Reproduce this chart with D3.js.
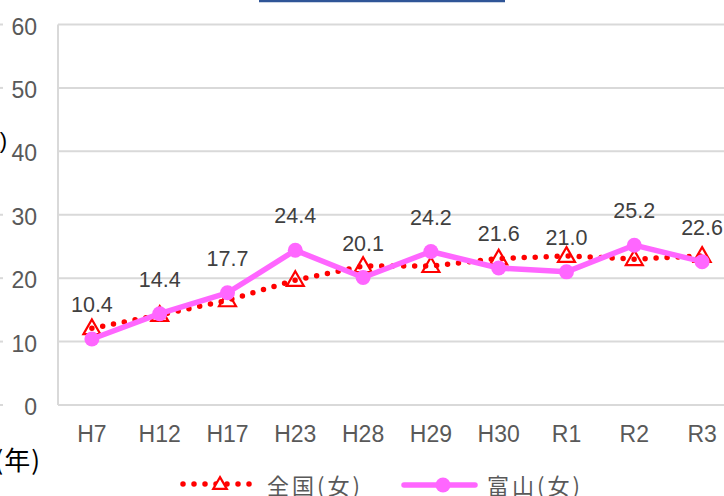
<!DOCTYPE html>
<html>
<head>
<meta charset="utf-8">
<script src="https://cdn.jsdelivr.net/npm/d3@7"></script>
<style>
body { margin: 0; background: #fff; overflow: hidden; }
svg { display: block; }
text { font-family: "Liberation Sans", "Noto Sans CJK JP", sans-serif; }
text.jp { font-family: "Noto Sans CJK JP", sans-serif; }
</style>
</head>
<body>
<svg id="chart" width="724" height="496"></svg>
<script>
"use strict"

var categories = ["H7", "H12", "H17", "H23", "H28", "H29", "H30", "R1", "R2", "R3"];
var zenkoku = [12.1, 14.2, 16.5, 19.7, 21.9, 21.9, 23.1, 23.5, 23.0, 23.5];
var toyama = [10.4, 14.4, 17.7, 24.4, 20.1, 24.2, 21.6, 21.0, 25.2, 22.6];
var yTicks = [0, 10, 20, 30, 40, 50, 60];
var seriesNames = ["全国(女)", "富山(女)"];

var RED = "#ff0000";
var PINK = "#ff66ff";
var GRID = "#d9d9d9";
var LABEL = "#595959";

var svg = d3.select("#chart");

var x = d3.scaleBand().domain(categories).range([58, 736]);
var y = d3.scaleLinear().domain([0, 60]).range([405, 24.5]);
function cx(d) { return x(d) + x.bandwidth() / 2; }

// title box edge at top
svg.append("line")
	.attr("x1", 259).attr("x2", 505)
	.attr("y1", 1).attr("y2", 1)
	.attr("stroke", "#2f5597").attr("stroke-width", 2.5);

// grid
svg.append("g").selectAll("line").data(yTicks).join("line")
	.attr("x1", 58).attr("x2", 724)
	.attr("y1", function(d) { return y(d); })
	.attr("y2", function(d) { return y(d); })
	.attr("stroke", GRID).attr("stroke-width", 2);

// stray ticks of neighbouring axis at left edge
svg.append("g").selectAll("line").data(yTicks).join("line")
	.attr("x1", 0).attr("x2", 3)
	.attr("y1", function(d) { return y(d); })
	.attr("y2", function(d) { return y(d); })
	.attr("stroke", GRID).attr("stroke-width", 2);

svg.append("line")
	.attr("x1", 58).attr("x2", 58)
	.attr("y1", y(60)).attr("y2", y(0))
	.attr("stroke", GRID).attr("stroke-width", 2);

// y labels
svg.append("g").selectAll("text").data(yTicks).join("text")
	.attr("x", 37)
	.attr("y", function(d) { return y(d) + 10; })
	.attr("text-anchor", "end")
	.attr("font-size", 23)
	.attr("fill", LABEL)
	.text(function(d) { return d; });

// x labels
svg.append("g").selectAll("text").data(categories).join("text")
	.attr("x", cx)
	.attr("y", 442)
	.attr("text-anchor", "middle")
	.attr("font-size", 23)
	.attr("fill", LABEL)
	.text(function(d) { return d; });

// cut off axis texts at left edge
svg.append("text")
	.attr("x", 7).attr("y", 148)
	.attr("text-anchor", "end")
	.attr("font-size", 22)
	.attr("fill", "#000")
	.text("(%)");
svg.append("text")
	.attr("class", "jp")
	.attr("x", 41).attr("y", 470)
	.attr("text-anchor", "end")
	.attr("font-size", 26)
	.attr("letter-spacing", 1)
	.attr("fill", "#000")
	.text("(年)");

// national series
var line = d3.line()
	.x(function(d, i) { return cx(categories[i]); })
	.y(function(d) { return y(d); });

svg.append("path")
	.datum(zenkoku)
	.attr("d", line)
	.attr("fill", "none")
	.attr("stroke", RED)
	.attr("stroke-width", 5.5)
	.attr("stroke-linecap", "round")
	.attr("stroke-dasharray", "0 11");

var tri = d3.symbol().type(d3.symbolTriangle).size(125);
svg.append("g").selectAll("path").data(zenkoku).join("path")
	.attr("transform", function(d, i) { return "translate(" + cx(categories[i]) + "," + (y(d) + 1) + ")"; })
	.attr("d", tri)
	.attr("fill", "none")
	.attr("stroke", RED)
	.attr("stroke-width", 2.2);

// toyama series
svg.append("path")
	.datum(toyama)
	.attr("d", line)
	.attr("fill", "none")
	.attr("stroke", PINK)
	.attr("stroke-width", 5.5)
	.attr("stroke-linejoin", "round");

svg.append("g").selectAll("circle").data(toyama).join("circle")
	.attr("cx", function(d, i) { return cx(categories[i]); })
	.attr("cy", function(d) { return y(d); })
	.attr("r", 7.5)
	.attr("fill", PINK);

svg.append("g").selectAll("text").data(toyama).join("text")
	.attr("x", function(d, i) { return cx(categories[i]); })
	.attr("y", function(d) { return y(d) - 27; })
	.attr("text-anchor", "middle")
	.attr("font-size", 21.5)
	.attr("fill", "#404040")
	.text(function(d) { return d.toFixed(1); });

// legend
var lg = svg.append("g");
lg.append("line")
	.attr("x1", 183).attr("x2", 250).attr("y1", 484).attr("y2", 484)
	.attr("stroke", RED).attr("stroke-width", 5.5)
	.attr("stroke-linecap", "round").attr("stroke-dasharray", "0 11");
lg.append("path")
	.attr("transform", "translate(220,485)")
	.attr("d", d3.symbol().type(d3.symbolTriangle).size(80))
	.attr("fill", "#fff").attr("stroke", RED).attr("stroke-width", 2.2);
lg.append("text")
	.attr("class", "jp")
	.attr("x", 267).attr("y", 494)
	.attr("font-size", 22).attr("letter-spacing", 3).attr("fill", LABEL)
	.text(seriesNames[0]);

lg.append("line")
	.attr("x1", 404).attr("x2", 475).attr("y1", 485).attr("y2", 485)
	.attr("stroke", PINK).attr("stroke-width", 5.5).attr("stroke-linecap", "round");
lg.append("circle")
	.attr("cx", 443).attr("cy", 485).attr("r", 7.5).attr("fill", PINK);
lg.append("text")
	.attr("class", "jp")
	.attr("x", 487).attr("y", 494)
	.attr("font-size", 22).attr("letter-spacing", 3).attr("fill", LABEL)
	.text(seriesNames[1]);
</script>
</body>
</html>
